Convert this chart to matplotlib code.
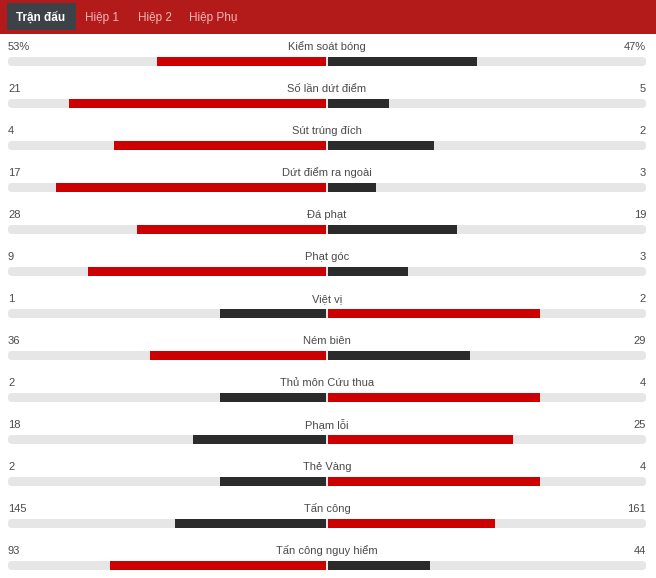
import matplotlib.pyplot as plt
import matplotlib.patches as p

# match stats (home, away)
stat_names = ["Kiểm soát bóng", "Số lần dứt điểm", "Sút trúng đích", "Dứt điểm ra ngoài",
              "Đá phạt", "Phạt góc", "Việt vị", "Ném biên", "Thủ môn Cứu thua",
              "Phạm lỗi", "Thẻ Vàng", "Tấn công", "Tấn công nguy hiểm"]
home_vals = [53, 21, 4, 17, 28, 9, 1, 36, 2, 18, 2, 145, 93]
away_vals = [47, 5, 2, 3, 19, 3, 2, 29, 4, 25, 4, 161, 44]
home_labels = ["53%", "21", "4", "17", "28", "9", "1", "36", "2", "18", "2", "145", "93"]
away_labels = ["47%", "5", "2", "3", "19", "3", "2", "29", "4", "25", "4", "161", "44"]
tab_names = ["Trận đấu", "Hiệp 1", "Hiệp 2", "Hiệp Phụ"]

W, H = 656, 578
RED = "#cc0000"
DARK = "#2b2b2b"
TRACK = "#e6e6e6"
TXT = "#4a4a4a"

plt.rcParams['font.family'] = ['Liberation Sans', 'DejaVu Sans']

fig = plt.figure(figsize=(W / 100, H / 100), dpi=100)
ax = fig.add_axes([0, 0, 1, 1])
ax.set_xlim(0, W)
ax.set_ylim(H, 0)
ax.axis("off")

# header band with tabs
ax.add_patch(p.Rectangle((0, 0), W, 34, color="#b31b1b", lw=0))
ax.add_patch(p.Rectangle((7, 3), 69, 27, color="#3d4248", lw=0))
tab_x = [41, 102, 155, 213]
for i, (t, x) in enumerate(zip(tab_names, tab_x)):
    if i == 0:
        ax.text(x, 21, t, color="white", fontsize=8.5, fontweight="bold", ha="center", va="baseline")
    else:
        ax.text(x, 21, t, color="#f4b6b6", fontsize=8.5, ha="center", va="baseline")

left_edge, right_edge, center = 8, 646, 327
half = center - left_edge - 1

for i, name in enumerate(stat_names):
    ty = 50.5 + 42 * i
    by = 61.5 + 42 * i
    h, a = home_vals[i], away_vals[i]
    tot = h + a
    ax.text(left_edge, ty, home_labels[i], color=TXT, fontsize=8, ha="left", va="baseline")
    ax.text(center, ty, name, color=TXT, fontsize=8, ha="center", va="baseline")
    ax.text(right_edge, ty, away_labels[i], color=TXT, fontsize=8, ha="right", va="baseline")

    # gray track
    ax.add_patch(p.FancyBboxPatch((left_edge + 4, by - 0.5), right_edge - left_edge - 8, 1,
                                  boxstyle="round,pad=4", color=TRACK, lw=0))
    hc = RED if h > a else DARK
    ac = RED if a > h else DARK
    hw = half * h / tot
    aw = half * a / tot
    ax.barh(by, hw, left=center - 1 - hw, height=9, color=hc, lw=0)
    ax.barh(by, aw, left=center + 1, height=9, color=ac, lw=0)

fig.savefig("out.png", dpi=100, facecolor="white")
